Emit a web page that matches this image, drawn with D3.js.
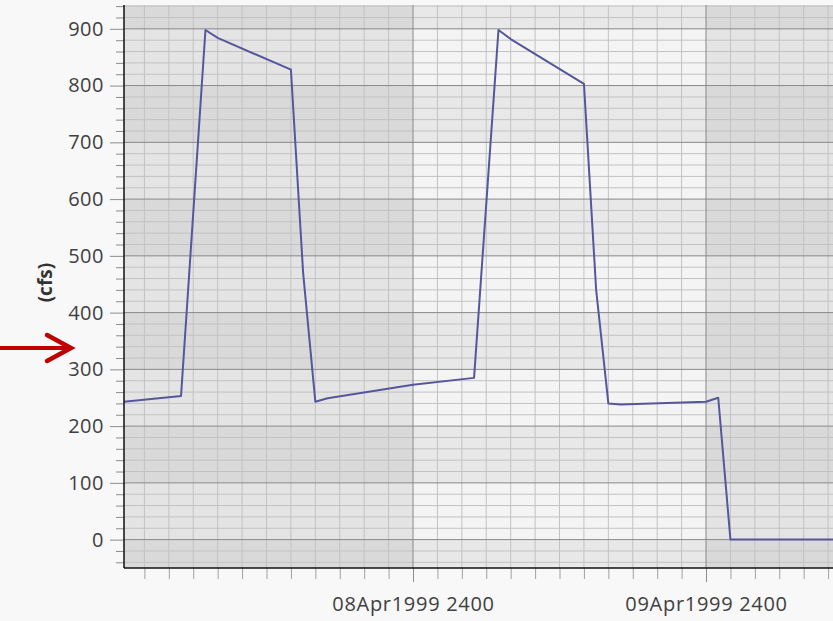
<!DOCTYPE html>
<html lang="en">
<head>
  <meta charset="utf-8">
  <title>Flow (cfs)</title>
  <script src="https://d3js.org/d3.v7.js"></script>
  <style>
    body { margin: 0; background: #f8f8f8; }
    text { font-family: "Open Sans", "Noto Sans", sans-serif; }
  </style>
</head>
<body>
  <div id="my_dataviz"></div>

  <script>
    // Flow hydrograph, hours counted from 08Apr1999 0000
    var hours = [0, 5, 7, 8, 14, 15, 16, 17, 24, 29, 31, 32, 38, 39, 40, 41, 48, 49, 50, 60];
    var flow  = [242, 253, 898, 884, 828, 470, 243, 249, 273, 285, 898, 882, 803, 440, 240, 238, 243, 250, 0, 0];
    var yTicks = [0, 100, 200, 300, 400, 500, 600, 700, 800, 900];
    var yLabel = "(cfs)";

    var start = Date.UTC(1999, 3, 8);
    var data = hours.map(function(h, i) {
      return {t: new Date(start + h * 3600e3), v: flow[i]};
    });

    var W = 833, H = 621;
    var margin = {top: 5, right: 0, bottom: 53, left: 124};
    var width = W - margin.left - margin.right,
        height = H - margin.top - margin.bottom;

    var svg = d3.select("#my_dataviz")
      .append("svg")
      .attr("width", W)
      .attr("height", H);

    var g = svg.append("g")
      .attr("transform", "translate(" + margin.left + "," + margin.top + ")");

    var x = d3.scaleUtc()
      .domain([new Date(start + 0.328 * 3600e3), new Date(start + 58.4 * 3600e3)])
      .range([0, width]);

    var y = d3.scaleLinear()
      .domain([-50, 942])
      .range([height, 0]);

    g.append("clipPath").attr("id", "clip")
      .append("rect").attr("width", width).attr("height", height);

    var plot = g.append("g").attr("clip-path", "url(#clip)");

    // checkered background: day columns x 100-cfs rows
    var days = d3.utcDay.range(d3.utcDay.floor(x.domain()[0]), d3.utcDay.offset(x.domain()[1], 1));
    var rows = d3.range(-100, 1000, 100);
    var shades = [["#f4f4f4", "#e8e8e8"], ["#e4e4e4", "#d9d9d9"]];
    days.forEach(function(d, i) {
      var darkCol = (i % 2 === 0) ? 1 : 0;
      rows.forEach(function(r) {
        var darkRow = (Math.floor(r / 100) % 2 !== 0) ? 1 : 0;
        plot.append("rect")
          .attr("x", x(d))
          .attr("width", x(d3.utcDay.offset(d, 1)) - x(d))
          .attr("y", y(r + 100))
          .attr("height", y(r) - y(r + 100))
          .attr("fill", shades[darkCol][darkRow]);
      });
    });

    // minor grid
    var minorY = d3.range(-40, 941, 20).filter(function(v) { return v % 100 !== 0; });
    plot.selectAll(".minY").data(minorY).enter().append("line")
      .attr("x1", 0).attr("x2", width)
      .attr("y1", function(d) { return y(d); }).attr("y2", function(d) { return y(d); })
      .attr("stroke", "#c2c2c2").attr("stroke-width", 1);

    var minorX = d3.utcHour.every(2).range(x.domain()[0], x.domain()[1])
      .filter(function(d) { return d.getUTCHours() !== 0; });
    plot.selectAll(".minX").data(minorX).enter().append("line")
      .attr("x1", function(d) { return x(d); }).attr("x2", function(d) { return x(d); })
      .attr("y1", 0).attr("y2", height)
      .attr("stroke", "#c2c2c2").attr("stroke-width", 1);

    // major grid
    plot.selectAll(".majY").data(yTicks).enter().append("line")
      .attr("x1", 0).attr("x2", width)
      .attr("y1", function(d) { return y(d); }).attr("y2", function(d) { return y(d); })
      .attr("stroke", "#888").attr("stroke-width", 1);

    var majorX = d3.utcDay.range(x.domain()[0], x.domain()[1]);
    plot.selectAll(".majX").data(majorX).enter().append("line")
      .attr("x1", function(d) { return x(d); }).attr("x2", function(d) { return x(d); })
      .attr("y1", 0).attr("y2", height)
      .attr("stroke", "#888").attr("stroke-width", 1);

    // the line
    var line = d3.line()
      .x(function(d) { return x(d.t); })
      .y(function(d) { return y(d.v); });
    plot.append("path")
      .datum(data)
      .attr("fill", "none")
      .attr("stroke", "#56569c")
      .attr("stroke-width", 2)
      .attr("stroke-linejoin", "round")
      .attr("d", line);

    // Y axis: minor ticks then major with labels
    g.append("g")
      .call(d3.axisLeft(y).tickValues(minorY).tickSize(8).tickFormat(""))
      .call(function(a) { a.select(".domain").remove(); a.selectAll("line").attr("stroke", "#8c8c8c"); });
    var yAxis = g.append("g")
      .call(d3.axisLeft(y).tickValues(yTicks).tickSize(14).tickPadding(6).tickFormat(d3.format("d")));
    yAxis.select(".domain").remove();
    yAxis.selectAll("line").attr("stroke", "#8c8c8c");
    yAxis.selectAll("text").attr("font-size", 20).attr("letter-spacing", 0.5).attr("fill", "#404040");

    // X axis: minor ticks then major with labels
    g.append("g")
      .attr("transform", "translate(0," + height + ")")
      .call(d3.axisBottom(x).tickValues(minorX).tickSize(11).tickFormat(""))
      .call(function(a) { a.select(".domain").remove(); a.selectAll("line").attr("stroke", "#a0a0a0"); });
    var fmt = d3.utcFormat("%d%b%Y");
    var xAxis = g.append("g")
      .attr("transform", "translate(0," + height + ")")
      .call(d3.axisBottom(x).tickValues(majorX).tickSize(14).tickPadding(15)
        .tickFormat(function(d) { return fmt(d3.utcDay.offset(d, -1)) + " 2400"; }));
    xAxis.select(".domain").remove();
    xAxis.selectAll("line").attr("stroke", "#8c8c8c");
    xAxis.selectAll("text").attr("font-size", 20).attr("letter-spacing", 0.7).attr("fill", "#404040");

    // axis lines
    g.append("line").attr("x1", 0).attr("x2", 0).attr("y1", 0).attr("y2", height)
      .attr("stroke", "#111").attr("stroke-width", 1.5);
    g.append("line").attr("x1", 0).attr("x2", width).attr("y1", height).attr("y2", height)
      .attr("stroke", "#111").attr("stroke-width", 1.5);

    // y label
    svg.append("text")
      .attr("transform", "translate(52," + (margin.top + y(400) - 30) + ") rotate(-90)")
      .attr("text-anchor", "middle")
      .attr("font-size", 19)
      .attr("font-weight", "bold")
      .attr("fill", "#333")
      .text(yLabel);

    // red pointer arrow
    svg.append("line")
      .attr("x1", 0).attr("x2", 69).attr("y1", 348).attr("y2", 348)
      .attr("stroke", "#c00000").attr("stroke-width", 4);
    svg.append("path")
      .attr("d", "M47,335 L71,348 L47,361")
      .attr("fill", "none")
      .attr("stroke", "#c00000")
      .attr("stroke-width", 4.5)
      .attr("stroke-linecap", "round")
      .attr("stroke-linejoin", "miter");
  </script>
</body>
</html>
